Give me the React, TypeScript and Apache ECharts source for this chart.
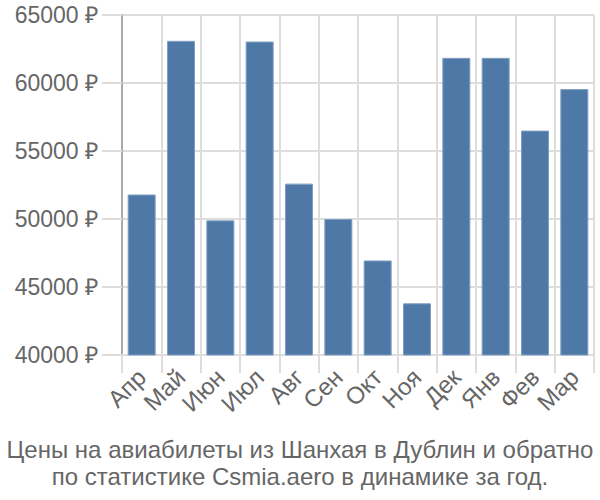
import React, { useEffect, useRef } from "react";
import * as echarts from "echarts";

const months = ["Апр", "Май", "Июн", "Июл", "Авг", "Сен", "Окт", "Ноя", "Дек", "Янв", "Фев", "Мар"];
const prices = [51800, 63100, 49900, 63050, 52600, 50000, 46950, 43800, 61850, 61850, 56500, 59550];
const titleLines = [
  "Цены на авиабилеты из Шанхая в Дублин и обратно",
  "по статистике Csmia.aero в динамике за год.",
];

const FONT = "Liberation Sans";

export default function App() {
  const ref = useRef<HTMLDivElement>(null);
  useEffect(() => {
    if (!ref.current) return;
    const chart = echarts.init(ref.current, null, { renderer: "svg" });
    chart.setOption({
      animation: false,
      textStyle: { fontFamily: FONT },
      title: {
        text: titleLines.join("\n"),
        left: "center",
        top: 431,
        textStyle: {
          fontSize: 24,
          fontWeight: "normal",
          color: "#666",
          lineHeight: 27,
          fontFamily: FONT,
        },
      },
      grid: { left: 122, right: 6, top: 15, bottom: 145 },
      xAxis: {
        type: "category",
        data: months,
        axisLine: { lineStyle: { color: "#ddd", width: 2 } },
        axisTick: { show: true, length: 18, lineStyle: { color: "#ddd", width: 2 } },
        splitLine: { show: true, lineStyle: { color: "#ddd", width: 2 } },
        axisLabel: { rotate: 45, interval: 0, fontSize: 24, color: "#666", margin: 18, fontFamily: FONT },
      },
      yAxis: {
        type: "value",
        min: 40000,
        max: 65000,
        interval: 5000,
        axisLine: { show: true, lineStyle: { color: "#aaa", width: 2 } },
        axisTick: { show: true, length: 20, lineStyle: { color: "#ddd", width: 2 } },
        splitLine: { show: true, lineStyle: { color: "#ddd", width: 2 } },
        axisLabel: {
          fontSize: 23,
          color: "#666",
          margin: 24,
          fontFamily: FONT,
          formatter: (v: number) => `${v} ₽`,
        },
      },
      series: [
        {
          type: "bar",
          data: prices,
          barWidth: 28,
          itemStyle: { color: "#4e79a7", borderColor: "#7f9ec2", borderWidth: 1 },
        },
      ],
    });
    return () => chart.dispose();
  }, []);
  return <div ref={ref} style={{ width: 600, height: 500, position: "absolute", left: 0, top: 0 }} />;
}
